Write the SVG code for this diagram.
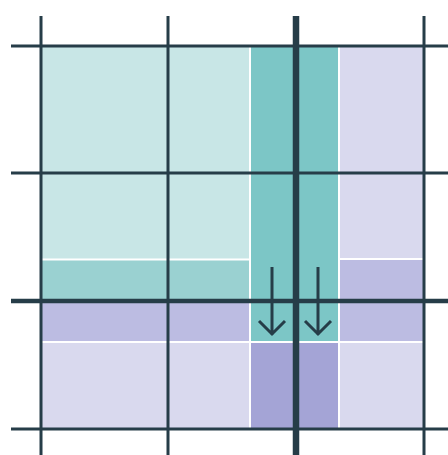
<svg xmlns="http://www.w3.org/2000/svg" width="448" height="455" viewBox="0 0 448 455">
<style>
.grid{stroke:#263d48;stroke-width:3;fill:none}
.thickv{stroke:#263d48;stroke-width:6.5;fill:none}
.thickh{stroke:#263d48;stroke-width:4.5;fill:none}
.sep{stroke:#ffffff;stroke-width:2;fill:none}
.arrow{stroke:#263d48;stroke-width:3;fill:none;stroke-linecap:butt}
</style>
<rect width="448" height="455" fill="#ffffff"/>
<g id="fills">
<rect x="41" y="46" width="209" height="214" fill="#c8e6e6"/>
<rect x="41" y="260" width="209" height="41" fill="#9ad1d1"/>
<rect x="250" y="46" width="89" height="297" fill="#7cc6c6"/>
<rect x="339" y="46" width="85" height="213" fill="#d9d9ee"/>
<rect x="339" y="259" width="85" height="83" fill="#bcbce2"/>
<rect x="41" y="301" width="209" height="41" fill="#bcbce2"/>
<rect x="41" y="342" width="209" height="87" fill="#d9d9ee"/>
<rect x="339" y="342" width="85" height="87" fill="#d9d9ee"/>
<rect x="250" y="342" width="89" height="87" fill="#a4a4d6"/>
</g>
<g id="separators">
<line class="sep" x1="41" y1="259.5" x2="250" y2="259.5"/>
<line class="sep" x1="339" y1="259" x2="424" y2="259"/>
<line class="sep" x1="41" y1="342" x2="424" y2="342"/>
<line class="sep" x1="250" y1="46" x2="250" y2="429"/>
<line class="sep" x1="339" y1="46" x2="339" y2="429"/>
</g>
<g id="grid">
<line class="grid" x1="11" y1="46" x2="448" y2="46"/>
<line class="grid" x1="11" y1="173" x2="448" y2="173"/>
<line class="thickh" x1="11" y1="301" x2="448" y2="301"/>
<line class="grid" x1="11" y1="429" x2="448" y2="429"/>
<line class="grid" x1="41" y1="16" x2="41" y2="455"/>
<line class="grid" x1="168" y1="16" x2="168" y2="455"/>
<line class="thickv" x1="296" y1="16" x2="296" y2="455"/>
<line class="grid" x1="424" y1="16" x2="424" y2="455"/>
</g>
<g id="connectors">
<path class="arrow" d="M272 267 V335 M259 321 L272 334 L285 321"/>
<path class="arrow" d="M318 267 V335 M305 321 L318 334 L331 321"/>
</g>
</svg>
